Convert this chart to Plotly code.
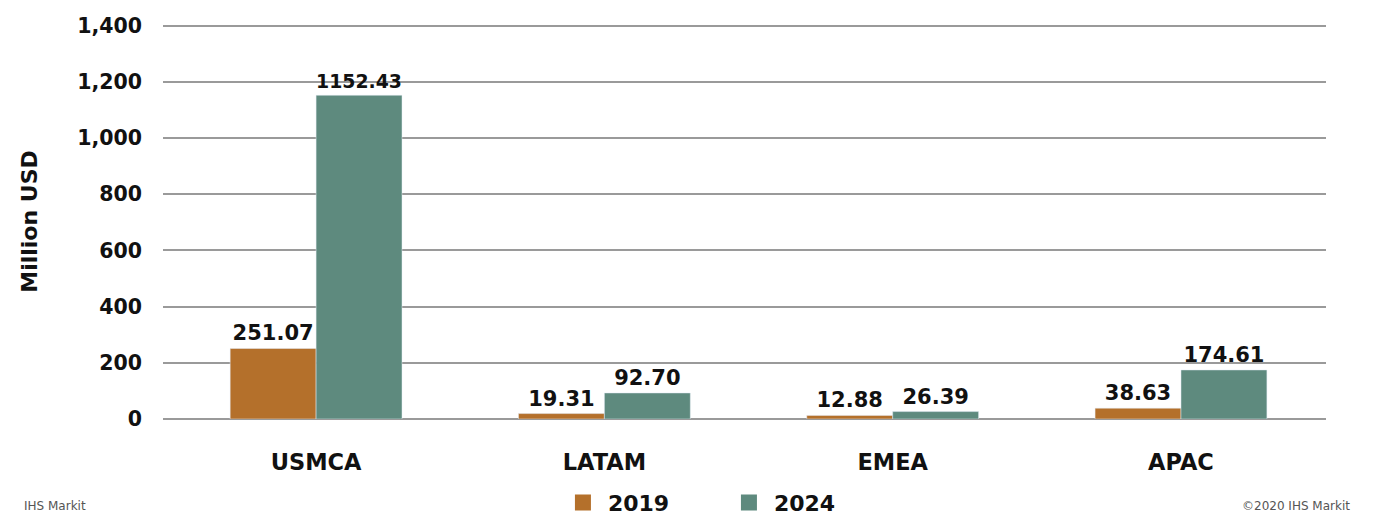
import plotly.graph_objects as go

categories = ["USMCA", "LATAM", "EMEA", "APAC"]
values_2019 = [251.07, 19.31, 12.88, 38.63]
values_2024 = [1152.43, 92.70, 26.39, 174.61]
labels_2019 = ["251.07", "19.31", "12.88", "38.63"]
labels_2024 = ["1152.43", "92.70", "26.39", "174.61"]
series_names = ["2019", "2024"]
colors = ["#B4702B", "#5E8A7E"]

FONT = "DejaVu Sans"
BLACK = "#111111"
fig = go.Figure()
for name, vals, labs, col in zip(series_names, [values_2019, values_2024],
                                 [labels_2019, labels_2024], colors):
    fig.add_trace(go.Bar(
        name=name, x=categories, y=vals, marker_color=col, showlegend=False,
        text=labs, textposition="outside", cliponaxis=False,
        textfont=dict(family=FONT, size=21, color=BLACK, weight="bold"),
    ))
# legend entries with larger square swatches
for name, col in zip(series_names, colors):
    fig.add_trace(go.Scatter(
        name=name, x=[None], y=[None], mode="markers",
        marker=dict(symbol="square", size=16, color=col), showlegend=True,
    ))

# page body has an 8px margin, so the figure is sized to fit the 1379x516 window
fig.update_layout(
    width=1371, height=508,
    margin=dict(l=155, r=53, t=16, b=97, autoexpand=False),
    paper_bgcolor="white", plot_bgcolor="white",
    barmode="group", bargap=0.404, bargroupgap=0,
    font=dict(family=FONT, color=BLACK),
    showlegend=True,
    legend=dict(orientation="h", x=0.5222, xref="container", xanchor="center",
                y=0.026, yref="container", yanchor="middle",
                font=dict(family=FONT, size=22, color=BLACK, weight="bold"),
                itemwidth=40, entrywidth=111, traceorder="normal", tracegroupgap=0),
    xaxis=dict(range=[-0.531, 3.503], showgrid=False, showline=False, ticks="",
               automargin=False,
               tickfont=dict(family=FONT, size=22.5, color=BLACK, weight="bold"),
               ticklabelstandoff=27),
    yaxis=dict(range=[0, 1406], tickvals=[0, 200, 400, 600, 800, 1000, 1200, 1400],
               tickformat=",", showgrid=True,
               automargin=False,
               gridcolor="#9a9a9a", gridwidth=1.5, zeroline=True, zerolinecolor="#9a9a9a",
               zerolinewidth=1.5, showline=False, ticks="",
               tickfont=dict(family=FONT, size=20.5, color=BLACK, weight="bold"),
               ticklabelstandoff=20,
               title=dict(text="Million USD", standoff=33,
                          font=dict(family=FONT, size=22, color=BLACK, weight="bold"))),
    annotations=[
        dict(text="IHS Markit", xref="paper", yref="paper", x=-0.1212, y=-0.242,
             xanchor="left", yanchor="bottom", showarrow=False,
             font=dict(family=FONT, size=12, color="#555555")),
        dict(text="©2020 IHS Markit", xref="paper", yref="paper", x=1.022, y=-0.242,
             xanchor="right", yanchor="bottom", showarrow=False,
             font=dict(family=FONT, size=12, color="#555555")),
    ],
)

fig.write_html("out.html")
